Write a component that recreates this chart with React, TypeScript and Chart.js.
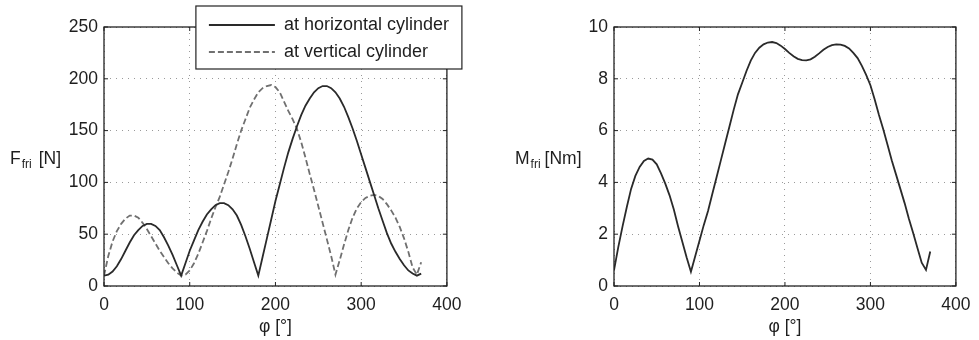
import React, { useEffect, useRef } from "react";
import { Chart, registerables } from "chart.js";

Chart.register(...registerables);

// ---------- data ----------
const phi = [
  0, 5, 10, 15, 20, 25, 30, 35, 40, 45, 50, 55, 60, 65, 70, 75, 80, 85, 90,
  95, 100, 105, 110, 115, 120, 125, 130, 135, 140, 145, 150, 155, 160, 165, 170, 175, 180,
  185, 190, 195, 200, 205, 210, 215, 220, 225, 230, 235, 240, 245, 250, 255, 260, 265, 270,
  275, 280, 285, 290, 295, 300, 305, 310, 315, 320, 325, 330, 335, 340, 345, 350, 355, 360,
  365, 370,
];

const forceHorizontal = [
  10, 11, 14, 19, 26, 34, 42, 49, 54, 58, 60, 60, 58, 54, 47, 39, 30, 20, 10,
  22, 34, 44, 54, 62, 69, 74, 78, 80, 80, 78, 74, 68, 59, 48, 36, 23, 10,
  28, 46, 64, 82, 98, 114, 129, 142, 154, 165, 174, 181, 187, 191, 193, 193, 191, 187,
  181, 173, 163, 152, 140, 127, 114, 101, 88, 75, 63, 51, 41, 33, 26, 20, 15, 12,
  10, 12,
];

const forceVertical = [
  10, 29, 43, 53, 60, 65, 68, 68, 66, 61, 55, 48, 41, 34, 28, 22, 17, 13, 10,
  11, 15, 22, 31, 42, 53, 65, 76, 86, 98, 110, 123, 137, 150, 161, 172, 180, 187,
  191, 193, 194, 192, 187, 178, 169, 161, 152, 139, 124, 108, 93, 77, 61, 45, 29, 11,
  25, 40, 54, 66, 75, 81, 85, 87, 88, 87, 84, 79, 73, 66, 57, 46, 33, 18,
  11, 23,
];

const torque = [
  0.6, 1.5, 2.3, 3.05, 3.75, 4.25, 4.6, 4.83, 4.92, 4.88, 4.7, 4.35, 3.95, 3.5, 2.95, 2.3, 1.7, 1.1, 0.55,
  1.15, 1.75, 2.35, 2.9, 3.55, 4.2, 4.85, 5.5, 6.15, 6.8, 7.4, 7.85, 8.3, 8.7, 9.0, 9.2, 9.33, 9.4,
  9.42, 9.38, 9.28, 9.15, 9.0, 8.87, 8.77, 8.72, 8.71, 8.75, 8.85, 8.98, 9.12, 9.23, 9.3, 9.33, 9.32, 9.27,
  9.17, 9.0, 8.8, 8.5, 8.15, 7.75, 7.2, 6.6, 6.05, 5.45, 4.85, 4.3, 3.75, 3.2, 2.6, 2.05, 1.47, 0.9,
  0.62, 1.33,
];

const seriesLabels = ["at horizontal cylinder", "at vertical cylinder"];
const xTicks = [0, 100, 200, 300, 400];
const forceTicks = [0, 50, 100, 150, 200, 250];
const torqueTicks = [0, 2, 4, 6, 8, 10];
const xTitle = "φ [°]";
const forceTitle = { main: "F", sub: "fri", unit: "[N]" };
const torqueTitle = { main: "M", sub: "fri", unit: "[Nm]" };

// ---------- styling ----------
const FONT = '"Liberation Sans", Arial, Helvetica, sans-serif';
const FS = 17.5;
const TEXT = "#1e1e1e";

const matlabFrame = {
  id: "matlabFrame",
  afterDraw(chart: any, _args: any, opts: any) {
    const { ctx, chartArea: a, scales } = chart;
    ctx.save();
    // inward tick marks
    ctx.strokeStyle = "#222";
    ctx.lineWidth = 1;
    const tl = 4;
    const seg = (x1: number, y1: number, x2: number, y2: number) => {
      ctx.beginPath();
      ctx.moveTo(x1, y1);
      ctx.lineTo(x2, y2);
      ctx.stroke();
    };
    scales.x.ticks.forEach((t: any) => {
      const px = scales.x.getPixelForValue(t.value);
      seg(px, a.bottom, px, a.bottom - tl);
      seg(px, a.top, px, a.top + tl);
    });
    scales.y.ticks.forEach((t: any) => {
      const py = scales.y.getPixelForValue(t.value);
      seg(a.left, py, a.left + tl, py);
      seg(a.right, py, a.right - tl, py);
    });
    // box
    ctx.lineWidth = 1.3;
    ctx.strokeStyle = "#222";
    ctx.strokeRect(a.left, a.top, a.right - a.left, a.bottom - a.top);

    // y title (horizontal, with subscript)
    if (opts.yTitle) {
      const t = opts.yTitle;
      ctx.fillStyle = TEXT;
      ctx.textBaseline = "alphabetic";
      ctx.textAlign = "left";
      let x = t.x;
      ctx.font = `${FS}px ${FONT}`;
      ctx.fillText(t.main, x, t.y);
      x += ctx.measureText(t.main).width + 1;
      ctx.font = `12px ${FONT}`;
      ctx.fillText(t.sub, x, t.y + 4);
      x += ctx.measureText(t.sub).width + t.gap;
      ctx.font = `${FS}px ${FONT}`;
      ctx.fillText(t.unit, x, t.y);
    }

    // legend
    if (opts.legend) {
      const right = a.right + 15;
      const left = a.right - 251;
      const w = right - left;
      const h = 63;
      const top = a.top - 21;
      ctx.fillStyle = "#fff";
      ctx.fillRect(left, top, w, h);
      ctx.lineWidth = 1.2;
      ctx.strokeStyle = "#222";
      ctx.strokeRect(left, top, w, h);
      chart.data.datasets.forEach((ds: any, i: number) => {
        const y = top + 19 + i * 27;
        ctx.save();
        ctx.strokeStyle = ds.borderColor;
        ctx.lineWidth = ds.borderWidth;
        ctx.setLineDash(ds.borderDash || []);
        ctx.beginPath();
        ctx.moveTo(left + 13, y);
        ctx.lineTo(left + 79, y);
        ctx.stroke();
        ctx.restore();
        ctx.fillStyle = TEXT;
        ctx.font = `18px ${FONT}`;
        ctx.textAlign = "left";
        ctx.textBaseline = "middle";
        ctx.fillText(ds.label, left + 88, y);
      });
    }
    ctx.restore();
  },
};

function axisX() {
  return {
    type: "linear",
    min: xTicks[0],
    max: xTicks[xTicks.length - 1],
    afterBuildTicks: (s: any) => {
      s.ticks = xTicks.map((v) => ({ value: v }));
    },
    afterFit: (s: any) => {
      s.height = 54;
    },
    grid: { color: "#9a9a9a", lineWidth: 1, drawTicks: false },
    border: { display: false, dash: [1, 5] },
    ticks: { padding: 8.5, color: TEXT, font: { family: FONT, size: FS } },
    title: {
      display: true,
      text: xTitle,
      color: TEXT,
      font: { family: FONT, size: FS },
      padding: { top: 0, bottom: 2.5 },
    },
  };
}

function axisY(tickVals: number[], width: number) {
  return {
    type: "linear",
    min: tickVals[0],
    max: tickVals[tickVals.length - 1],
    afterBuildTicks: (s: any) => {
      s.ticks = tickVals.map((v) => ({ value: v }));
    },
    afterFit: (s: any) => {
      s.width = width;
    },
    grid: { color: "#9a9a9a", lineWidth: 1, drawTicks: false },
    border: { display: false, dash: [1, 5] },
    ticks: { padding: 6, color: TEXT, font: { family: FONT, size: FS } },
  };
}

export default function App() {
  const leftRef = useRef<HTMLCanvasElement>(null);
  const rightRef = useRef<HTMLCanvasElement>(null);

  useEffect(() => {
    const left = new Chart(leftRef.current as HTMLCanvasElement, {
      type: "line",
      data: {
        datasets: [
          {
            label: seriesLabels[0],
            data: phi.map((x, i) => ({ x, y: forceHorizontal[i] })),
            borderColor: "#2a2a2a",
            borderWidth: 1.8,
            pointRadius: 0,
            tension: 0,
            fill: false,
          },
          {
            label: seriesLabels[1],
            data: phi.map((x, i) => ({ x, y: forceVertical[i] })),
            borderColor: "#707070",
            borderWidth: 1.8,
            borderDash: [6, 3],
            pointRadius: 0,
            tension: 0,
            fill: false,
          },
        ],
      },
      options: {
        animation: false,
        responsive: false,
        maintainAspectRatio: false,
        layout: { padding: { top: 27, right: 20, bottom: 0, left: 0 } },
        plugins: {
          legend: { display: false },
          tooltip: { enabled: false },
          matlabFrame: { yTitle: { ...forceTitle, x: 10, y: 164, gap: 7 }, legend: true },
        } as any,
        scales: { x: axisX(), y: axisY(forceTicks, 104) } as any,
      },
      plugins: [matlabFrame],
    } as any);

    const right = new Chart(rightRef.current as HTMLCanvasElement, {
      type: "line",
      data: {
        datasets: [
          {
            label: "M_fri",
            data: phi.map((x, i) => ({ x, y: torque[i] })),
            borderColor: "#2a2a2a",
            borderWidth: 1.8,
            pointRadius: 0,
            tension: 0,
            fill: false,
          },
        ],
      },
      options: {
        animation: false,
        responsive: false,
        maintainAspectRatio: false,
        layout: { padding: { top: 27, right: 19, bottom: 0, left: 0 } },
        plugins: {
          legend: { display: false },
          tooltip: { enabled: false },
          matlabFrame: { yTitle: { ...torqueTitle, x: 25, y: 164, gap: 4 }, legend: false },
        } as any,
        scales: { x: axisX(), y: axisY(torqueTicks, 124) } as any,
      },
      plugins: [matlabFrame],
    } as any);

    return () => {
      left.destroy();
      right.destroy();
    };
  }, []);

  return (
    <div style={{ position: "fixed", left: 0, top: 0, width: 979, height: 340, background: "#fff" }}>
      <canvas
        ref={leftRef}
        width={470}
        height={340}
        style={{ position: "absolute", left: 0, top: 0, width: 470, height: 340 }}
      />
      <canvas
        ref={rightRef}
        width={489}
        height={340}
        style={{ position: "absolute", left: 490, top: 0, width: 489, height: 340 }}
      />
    </div>
  );
}
